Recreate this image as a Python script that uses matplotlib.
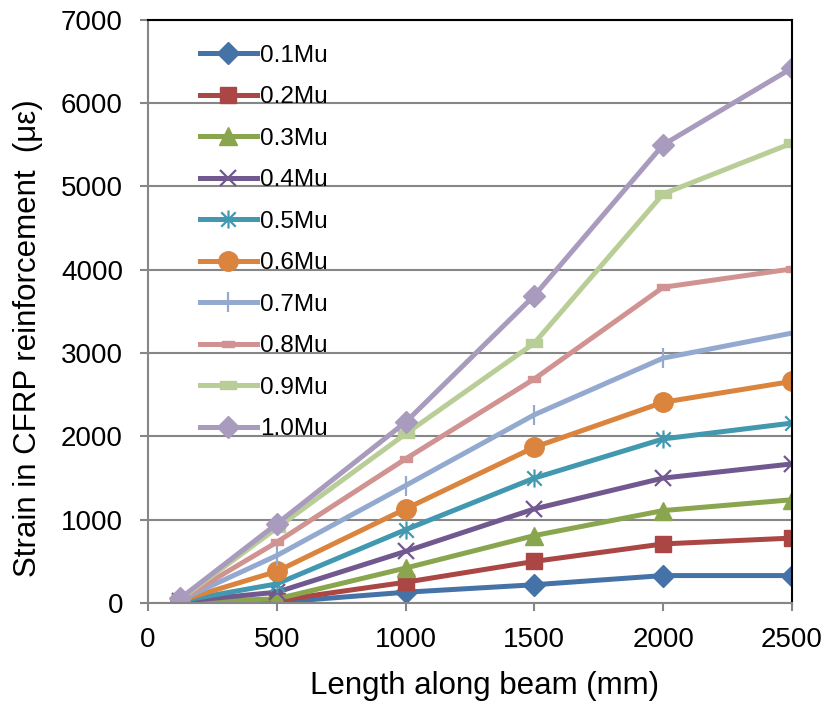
import matplotlib.pyplot as plt
from matplotlib.path import Path

plt.rcParams['font.family'] = ['Liberation Sans', 'DejaVu Sans']

length = [125, 500, 1000, 1500, 2000, 2500]
labels = ['0.1Mu', '0.2Mu', '0.3Mu', '0.4Mu', '0.5Mu',
          '0.6Mu', '0.7Mu', '0.8Mu', '0.9Mu', '1.0Mu']

s01 = [5, 10, 130, 220, 330, 330]
s02 = [10, 30, 250, 500, 710, 780]
s03 = [15, 50, 420, 810, 1110, 1240]
s04 = [20, 130, 620, 1130, 1500, 1670]
s05 = [25, 230, 880, 1500, 1970, 2160]
s06 = [30, 380, 1130, 1870, 2410, 2660]
s07 = [35, 570, 1410, 2260, 2940, 3240]
s08 = [40, 730, 1730, 2690, 3790, 4010]
s09 = [45, 900, 2030, 3120, 4910, 5520]
s10 = [55, 950, 2170, 3690, 5500, 6420]
series = [s01, s02, s03, s04, s05, s06, s07, s08, s09, s10]

colors = ['#4572A7', '#AA4643', '#89A54E', '#71588F', '#4198AF',
          '#DB843D', '#93A9CF', '#D19392', '#B9CD96', '#A99BBD']

# excel style asterisk: an x with a vertical bar through it
star = Path([(-1, -1), (1, 1), (-1, 1), (1, -1), (0, -1.25), (0, 1.25)],
            [Path.MOVETO, Path.LINETO, Path.MOVETO, Path.LINETO, Path.MOVETO, Path.LINETO])
wide_bar = Path([(-1, -0.45), (1, -0.45), (1, 0.45), (-1, 0.45), (-1, -0.45)],
                [Path.MOVETO, Path.LINETO, Path.LINETO, Path.LINETO, Path.CLOSEPOLY])

styles = [
    dict(marker='D', markersize=11),
    dict(marker='s', markersize=11),
    dict(marker='^', markersize=13),
    dict(marker='x', markersize=12, markeredgewidth=1.6),
    dict(marker=star, markersize=13, markeredgewidth=1.6),
    dict(marker='o', markersize=14),
    dict(marker='|', markersize=14, markeredgewidth=1.6),
    dict(marker=wide_bar, markersize=9),
    dict(marker=wide_bar, markersize=12),
    dict(marker='D', markersize=11),
]

fig = plt.figure(figsize=(8.31, 7.07), dpi=100)
ax = fig.add_axes([0.178, 0.147, 0.775, 0.825])

for y, lab, c, st in zip(series, labels, colors, styles):
    ax.plot(length, y, color=c, linewidth=3.6, label=lab,
            markerfacecolor=c, markeredgecolor=c, **st)

ax.set_xlim(0, 2500)
ax.set_ylim(0, 7000)
ax.set_xticks(range(0, 2501, 500))
ax.set_yticks(range(0, 7001, 1000))
ax.yaxis.grid(True, color='#868686', linewidth=1.5)
ax.set_axisbelow(True)
for side in ['left', 'bottom']:
    ax.spines[side].set_color('#868686')
    ax.spines[side].set_linewidth(1.5)
for side in ['top', 'right']:
    ax.spines[side].set_color('black')
    ax.spines[side].set_linewidth(1.5)
ax.tick_params(axis='both', labelsize=20, color='#868686', width=1.5, length=6)
ax.tick_params(axis='y', pad=12)
ax.tick_params(axis='x', pad=11)
ax.set_xlabel('Length along beam (mm)', fontsize=22.5)
ax.set_ylabel('Strain in CFRP reinforcement  (με)', fontsize=22.5)
ax.xaxis.set_label_coords(0.523, -0.116)
ax.yaxis.set_label_coords(-0.163, 0.455)

ax.legend(loc='upper left', bbox_to_anchor=(0.0807, 0.957), frameon=False,
          fontsize=17.5, handlelength=2.34, labelspacing=0.8, handletextpad=0.15,
          borderpad=0, borderaxespad=0)

fig.savefig('out.png', dpi=100)
